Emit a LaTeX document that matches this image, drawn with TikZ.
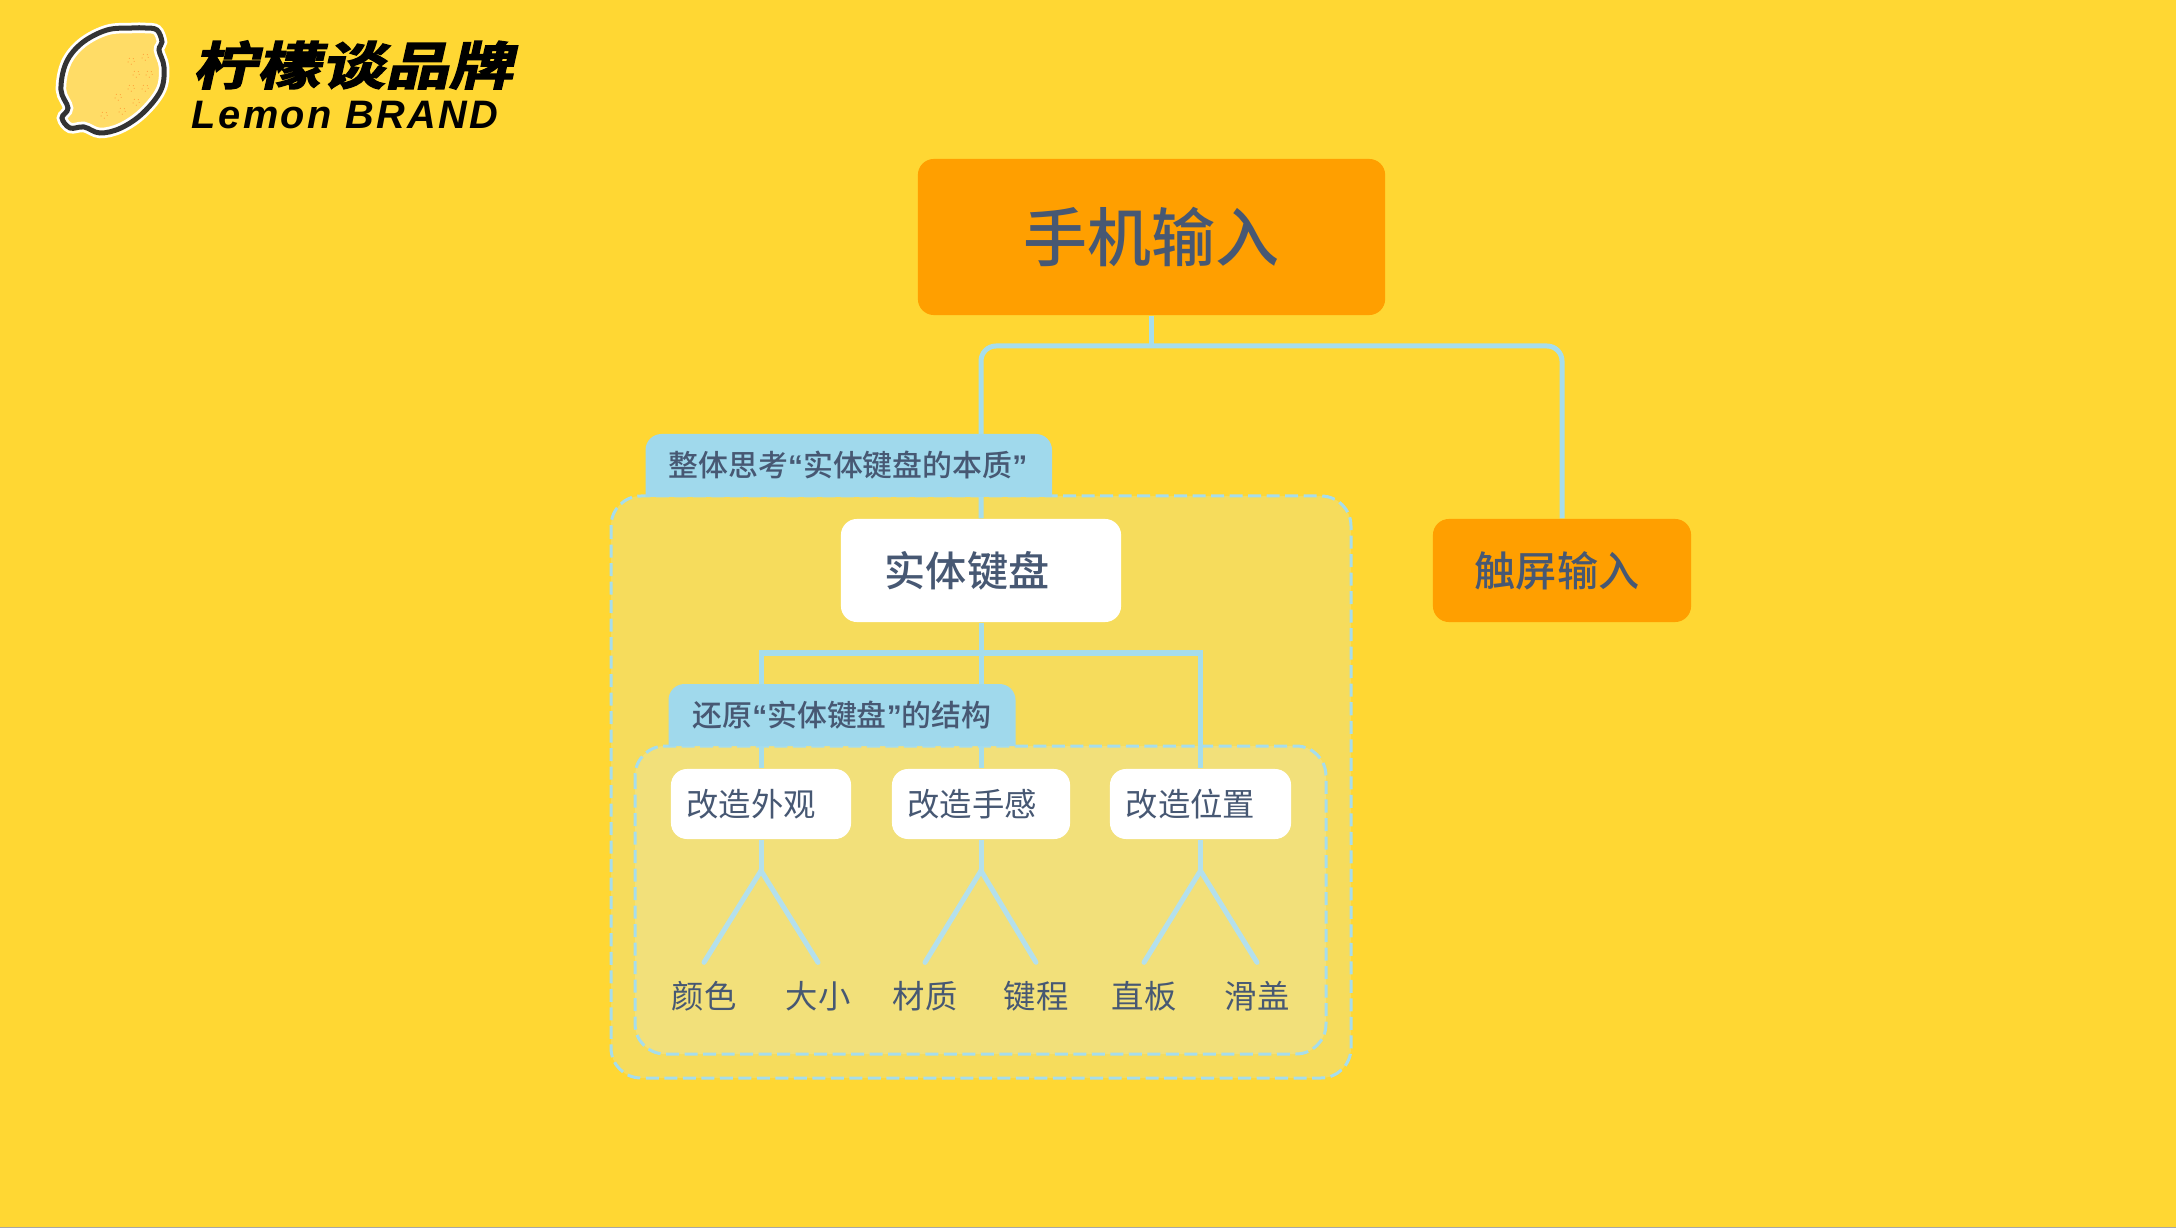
\documentclass[tikz,border=0pt]{standalone}
\usepackage{fontspec}
\setmainfont{Noto Sans CJK SC}
\newfontfamily\logofont[FakeSlant=0.18,FakeBold=2.5]{Noto Sans CJK SC Bold}
\newfontfamily\brandfont[LetterSpace=6]{Liberation Sans Bold Italic}
\newfontfamily\mediumfont{Noto Sans CJK SC Medium}
\newfontfamily\quotefont{Liberation Sans Bold}
\newcommand{\openq}{{\quotefont “}}
\newcommand{\closeq}{{\quotefont ”}}
\definecolor{lemonbg}{HTML}{FFD733}
\definecolor{boxorange}{HTML}{FF9F00}
\definecolor{linkblue}{HTML}{A6DDEC}
\definecolor{forkblue}{HTML}{B4E0EC}
\definecolor{tabblue}{HTML}{A0D9EC}
\definecolor{inktext}{HTML}{475873}
\definecolor{outerpanel}{HTML}{F6DC5C}
\definecolor{innerpanel}{HTML}{F2E07A}
\definecolor{lemonfill}{HTML}{FFDC66}
\tikzset{
  link/.style={draw=linkblue,line width=0.05cm},
  panel/.style={draw=linkblue,line width=0.03cm,dash pattern=on 0.13cm off 0.055cm,rounded corners=0.3cm},
  orangebox/.style={fill=boxorange,rounded corners=0.16cm,text=inktext,inner sep=0pt},
  whitebox/.style={fill=white,rounded corners=0.16cm,text=inktext,inner sep=0pt},
  tablabel/.style={text=inktext,font=\fontsize{8.5}{10}\mediumfont,inner sep=0pt},
  leaf/.style={text=inktext,font=\fontsize{9.2}{11}\selectfont,inner sep=0pt},
}
\begin{document}
\begin{tikzpicture}[x=0.01cm,y=-0.01cm]
	%page
	\fill[lemonbg] (0,0) rectangle (2176,1228);
	\useasboundingbox (0,0) rectangle (2176,1228);
	\fill[black!35] (0,1226.5) rectangle (2176,1228);

	%logo
	\def\lemonpath{(145,28) (157,30) (162,42) (159,50) (164,67) (161,90) (143,113) (121,128) (100,133) (84,127) (70,128) (62,118) (68,108) (61,90) (66,63) (82,43) (107,30) (132,28)}
	\fill[lemonfill] plot [smooth cycle, tension=0.6] coordinates {\lemonpath};
	\draw[white,line width=0.105cm] plot [smooth cycle, tension=0.6] coordinates {\lemonpath};
	\draw[black!80,line width=0.05cm] plot [smooth cycle, tension=0.6] coordinates {\lemonpath};
	\foreach \dotx/\doty in {131/61,145/57,136/74,149/74,131/88,145/88,118/97,136/102,122/111,104/115}
		\draw[orange!80,line width=0.008cm,densely dotted] (\dotx,\doty) circle (3.3);
	\node[inner sep=0pt,black] (logotitle) at (353,65) {\scalebox{1}[0.8]{\logofont\fontsize{18.2}{20}\selectfont 柠檬谈品牌}};
	\node[inner sep=0pt,black] (logobrand) at (345,115) {\brandfont\fontsize{11.3}{12}\selectfont Lemon BRAND};

	%panels
	\draw[panel,fill=outerpanel] (611,496) rectangle (1351,1078);
	\draw[panel,fill=innerpanel] (635,746) rectangle (1326,1054);

	%top boxes
	\node[orangebox,minimum width=4.67cm,minimum height=1.56cm,font=\fontsize{18.2}{20}\mediumfont] (phoneinput) at (1151.5,237) {手机输入};
	\node[orangebox,minimum width=2.58cm,minimum height=1.03cm,font=\fontsize{11.7}{13}\mediumfont] (touchinput) at (1562,570.5) {触屏输入\kern1mm};
	\node[whitebox,minimum width=2.8cm,minimum height=1.03cm,font=\fontsize{11.7}{13}\mediumfont] (keyboard) at (981,570.5) {实体键盘\kern2.8mm};

	%row of small boxes
	\node[whitebox,minimum width=1.8cm,minimum height=0.7cm,font=\fontsize{9.2}{11}\selectfont] (looks) at (761,804) {改造外观\kern2mm};
	\node[whitebox,minimum width=1.78cm,minimum height=0.7cm,font=\fontsize{9.2}{11}\selectfont] (feel) at (981,804) {改造手感\kern1.8mm};
	\node[whitebox,minimum width=1.81cm,minimum height=0.7cm,font=\fontsize{9.2}{11}\selectfont] (place) at (1200.5,804) {改造位置\kern2mm};

	%connectors
	\coordinate (hub) at (1151.5,346);
	\coordinate (keyhub) at (981,653);
	\draw[link] (phoneinput.south) -- (hub);
	\draw[link,rounded corners=0.15cm] (keyboard.north) |- (hub) -| (touchinput.north);
	\draw[link] (keyboard.south) -- (feel.north);
	\draw[link] (looks.north) |- (keyhub) -| (place.north);

	%tabs
	\fill[tabblue] (645.5,497) {[rounded corners=0.16cm] -- (645.5,434) -- (1052,434)} -- (1052,497) -- cycle;
	\fill[tabblue] (668.5,746) {[rounded corners=0.16cm] -- (668.5,684) -- (1015.5,684)} -- (1015.5,746) -- cycle;
	\node[tablabel] (tabwhole) at (848,465) {整体思考\openq 实体键盘的本质\closeq};
	\node[tablabel] (tabstruct) at (842,715) {还原\openq 实体键盘\closeq 的结构};

	%leaves
	\node[leaf] (color) at (704,996) {颜色};
	\node[leaf] (size) at (818,996) {大小};
	\node[leaf] (material) at (925,996) {材质};
	\node[leaf] (travel) at (1036,996) {键程};
	\node[leaf] (bar) at (1144,996) {直板};
	\node[leaf] (slide) at (1257,996) {滑盖};

	%forks
	\foreach \stem/\lefty/\righty in {looks/color/size,feel/material/travel,place/bar/slide}{
		\coordinate (fork) at ([yshift=-0.31cm]\stem.south);
		\draw[link,draw=forkblue] (\stem.south) -- (fork);
		\draw[link,draw=forkblue,line cap=round] (fork) -- ([yshift=0.18cm]\lefty.north);
		\draw[link,draw=forkblue,line cap=round] (fork) -- ([yshift=0.18cm]\righty.north);
	}
\end{tikzpicture}
\end{document}
